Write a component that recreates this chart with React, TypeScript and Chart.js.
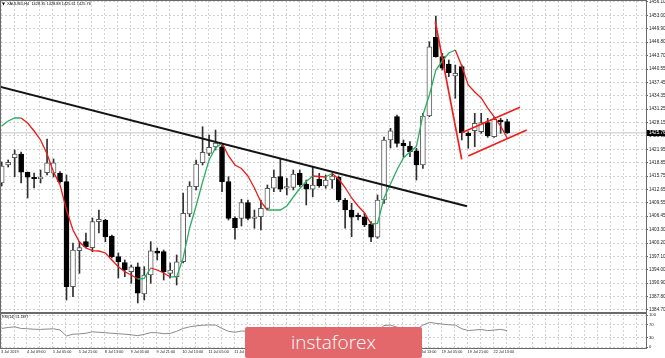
import React, { useEffect, useRef } from "react";
import { Chart, registerables } from "chart.js";

Chart.register(...registerables);

// ---------- data (XAUUSD H4) ----------
const OPEN = [
  1414.14, 1418.31, 1420.0, 1420.86, 1416.62, 1415.46, 1415.13, 1416.52, 1416.39, 1416.39,
  1414.44, 1390.1, 1398.44, 1400.53, 1399.14, 1405.17, 1405.56, 1401.85, 1397.05, 1395.66,
  1393.57, 1394.73, 1388.4, 1392.81, 1398.37, 1398.21, 1393.2, 1392.41, 1395.89, 1406.95,
  1413.28, 1418.84, 1421.02, 1422.48, 1422.55, 1414.44, 1405.95, 1405.95, 1409.57, 1405.95,
  1406.32, 1408.27, 1412.91, 1415.6, 1412.91, 1413.14, 1416.39, 1413.91, 1412.68, 1414.99,
  1413.44, 1414.83, 1415.46, 1410.2, 1407.88, 1406.72, 1406.32, 1404.63, 1401.55, 1410.2,
  1424.11, 1429.51, 1423.34, 1422.71, 1421.62, 1418.31, 1429.67, 1447.91, 1443.42, 1441.72,
  1438.94, 1441.1, 1425.66, 1426.26, 1426.03, 1428.12, 1424.87, 1428.74, 1428.35,
];
const HIGH = [
  1419.01, 1419.47, 1421.79, 1421.32, 1416.69, 1416.46, 1417.15, 1424.34, 1419.7, 1416.76,
  1415.99, 1400.23, 1400.53, 1402.55, 1406.02, 1407.88, 1405.72, 1402.08, 1397.91, 1396.29,
  1395.13, 1395.59, 1394.73, 1400.53, 1399.07, 1398.6, 1395.59, 1397.45, 1411.82, 1414.44,
  1419.47, 1427.19, 1425.26, 1426.42, 1422.95, 1415.6, 1406.32, 1410.36, 1410.2, 1407.88,
  1410.2, 1413.67, 1417.15, 1419.63, 1415.23, 1417.15, 1417.15, 1414.83, 1417.92, 1416.39,
  1415.99, 1416.39, 1415.76, 1410.59, 1409.43, 1407.18, 1407.11, 1405.17, 1411.36, 1424.8,
  1426.82, 1429.9, 1424.11, 1423.71, 1422.18, 1430.29, 1446.89, 1452.85, 1444.2, 1442.65,
  1441.49, 1441.49, 1426.03, 1430.29, 1430.29, 1429.14, 1429.37, 1429.14, 1428.88,
];
const LOW = [
  1413.44, 1417.85, 1415.6, 1414.14, 1410.66, 1412.98, 1414.14, 1415.99, 1415.53, 1414.07,
  1387.01, 1387.78, 1393.2, 1399.07, 1398.21, 1402.55, 1400.53, 1396.75, 1392.11, 1392.41,
  1390.88, 1386.32, 1387.01, 1390.88, 1396.29, 1391.65, 1392.11, 1390.49, 1395.59, 1406.32,
  1412.51, 1418.31, 1420.47, 1421.79, 1412.12, 1405.56, 1401.09, 1404.17, 1405.56, 1403.64,
  1403.24, 1407.88, 1412.12, 1412.12, 1411.36, 1412.51, 1413.28, 1409.04, 1410.96, 1413.14,
  1412.91, 1412.91, 1409.8, 1403.64, 1401.69, 1405.56, 1404.01, 1400.53, 1401.32, 1409.43,
  1422.25, 1422.48, 1420.23, 1420.23, 1414.83, 1417.54, 1429.51, 1443.28, 1440.33, 1438.78,
  1433.77, 1424.11, 1422.18, 1422.55, 1425.66, 1424.73, 1424.73, 1425.66, 1425.61,
];
const CLOSE = [
  1418.08, 1418.94, 1420.86, 1416.62, 1415.46, 1415.13, 1415.53, 1418.84, 1418.84, 1414.44,
  1390.1, 1398.6, 1399.14, 1399.37, 1405.17, 1405.72, 1401.69, 1397.05, 1395.89, 1393.97,
  1394.73, 1388.57, 1392.81, 1398.44, 1397.84, 1393.57, 1393.97, 1395.89, 1407.11, 1413.44,
  1418.54, 1421.25, 1422.41, 1423.41, 1414.44, 1405.95, 1403.77, 1409.57, 1405.95, 1406.32,
  1408.27, 1412.91, 1415.46, 1412.68, 1413.28, 1416.22, 1413.67, 1412.68, 1413.67, 1413.44,
  1414.83, 1415.76, 1410.2, 1407.88, 1406.19, 1406.32, 1404.4, 1401.55, 1410.2, 1424.11,
  1426.26, 1423.34, 1422.71, 1421.39, 1418.31, 1429.67, 1445.73, 1443.42, 1440.73, 1439.71,
  1439.57, 1425.8, 1425.1, 1427.98, 1428.12, 1425.03, 1428.9, 1428.35, 1425.76,
];
const MA = [
  1427.35, 1428.51, 1429.21, 1429.21, 1428.05, 1426.19, 1424.11, 1420.86, 1416.69, 1413.67,
  1407.88, 1403.24, 1400.46, 1399.07, 1398.44, 1398.37, 1397.91, 1396.29, 1394.73, 1393.57,
  1392.81, 1391.88, 1392.04, 1394.43, 1393.97, 1393.27, 1392.35, 1392.35, 1396.75, 1403.71,
  1408.81, 1414.37, 1419.47, 1422.25, 1423.41, 1420.4, 1418.31, 1417.5, 1415.76, 1412.98,
  1409.73, 1407.88, 1407.88, 1407.88, 1408.81, 1410.89, 1412.86, 1414.48, 1415.76, 1415.64,
  1415.53, 1416.34, 1415.06, 1413.09, 1410.66, 1408.81, 1407.18, 1404.63, 1404.75, 1410.66,
  1413.91, 1417.2, 1419.93, 1421.32, 1422.6, 1429.9, 1434.54, 1440.33, 1442.42, 1444.27,
  1444.97, 1441.26, 1436.86, 1435.23, 1433.84, 1431.52, 1429.44, 1427.35, 1424.57,
];
const RSI = [
  58, 61, 63, 58, 57, 55.5, 55, 56, 57, 53,
  34.5, 40, 41, 43, 47.5, 46, 44.5, 43, 41.5, 40,
  38, 35.5, 39.5, 45, 44.5, 41.5, 42.5, 49, 58, 63,
  66, 68, 69, 68.5, 58, 49, 46, 50, 49, 46,
  49, 54, 57, 52, 53, 56, 53, 50, 51, 50,
  52, 53, 46, 42, 40, 40, 38, 34, 50, 67,
  68.5, 62, 58, 57, 54, 68.5, 77, 74, 71.5, 69.5,
  68.5, 57, 51.5, 53, 55, 51, 53, 55, 51.14,
];
const PRICE_TICKS = [
  1384.7, 1387.8, 1390.9, 1394.0, 1397.1, 1400.2, 1403.3, 1406.45, 1409.55, 1412.65,
  1415.75, 1418.85, 1421.95, 1425.05, 1428.15, 1431.25, 1434.35, 1437.45, 1440.55, 1443.7,
  1446.8, 1449.9, 1453.0, 1456.1,
];
const RSI_TICKS = [0, 30, 70, 100];
const TIME_LABELS = [
  "3 Jul 2019", "4 Jul 09:00", "5 Jul 05:00", "5 Jul 21:00", "8 Jul 13:00",
  "9 Jul 05:00", "9 Jul 21:00", "10 Jul 13:00", "11 Jul 05:00", "11 Jul 21:00",
  "12 Jul 13:00", "15 Jul 05:00", "15 Jul 21:00", "16 Jul 13:00", "17 Jul 05:00",
  "17 Jul 21:00", "18 Jul 13:00", "19 Jul 05:00", "19 Jul 21:00", "22 Jul 13:00",
];
const TRENDLINE_BLACK = [{ x: -0.2, y: 1436.42 }, { x: 71.8, y: 1408.74 }];
const FLAG_POLE = [{ x: 66.91, y: 1451.53 }, { x: 70.99, y: 1419.63 }];
const FLAG_UPPER = [{ x: 70.99, y: 1425.8 }, { x: 79.98, y: 1431.69 }];
const FLAG_LOWER = [{ x: 72.0, y: 1420.4 }, { x: 81.02, y: 1426.42 }];
const HEADER = "XAUUSD,H4  1428.35 1428.88 1425.61 1425.76";
const RSI_LABEL = "RSI(14) 51.1397";

// ---------- view settings ----------
const X_MIN = -0.108;
const X_MAX = 99.43;
const Y_MIN = 1384.23;
const Y_MAX = 1456.33;
const FONT = "Liberation Sans";
const GRID = "#d2d2d2";

const gridTicksX = (scale: any) => {
  const t: any[] = [];
  for (let i = 0; i <= 98; i += 2) t.push({ value: i - 0.1 });
  scale.ticks = t;
};

const framePlugin = {
  id: "frame",
  afterDraw(chart: any) {
    const { ctx, chartArea: a } = chart;
    ctx.save();
    ctx.strokeStyle = "#6a6a6a";
    ctx.lineWidth = 1;
    ctx.strokeRect(a.left - 0.5, a.top - 0.5, a.right - a.left + 1, a.bottom - a.top + 1);
    ctx.restore();
  },
};

const headerPlugin = {
  id: "header",
  afterDraw(chart: any) {
    const { ctx } = chart;
    ctx.save();
    ctx.fillStyle = "#000";
    ctx.textBaseline = "middle";
    ctx.font = `3.8px "DejaVu Sans"`;
    ctx.fillText("▼", 2, 4.3);
    ctx.font = `3.9px "${FONT}"`;
    ctx.fillText(HEADER, 7, 4.3);
    ctx.restore();
  },
};

const priceBoxPlugin = {
  id: "priceBox",
  afterDraw(chart: any) {
    const { ctx, chartArea: a } = chart;
    const last = CLOSE[CLOSE.length - 1];
    const y = chart.scales.y.getPixelForValue(last);
    ctx.save();
    ctx.fillStyle = "#000";
    ctx.fillRect(a.right + 1, Math.round(y) - 3, 19, 6);
    ctx.fillStyle = "#fff";
    ctx.font = `4.6px "${FONT}"`;
    ctx.textBaseline = "middle";
    ctx.fillText(last.toFixed(2), a.right + 3, y);
    ctx.restore();
  },
};

const rsiLabelPlugin = {
  id: "rsiLabel",
  afterDraw(chart: any) {
    const { ctx } = chart;
    ctx.save();
    ctx.fillStyle = "#000";
    ctx.textBaseline = "middle";
    ctx.font = `3.6px "${FONT}"`;
    ctx.fillText(RSI_LABEL, 2, 3.6);
    ctx.restore();
  },
};

function mainConfig(): any {
  const last = CLOSE[CLOSE.length - 1];
  const wicks = OPEN.map((_, i) => ({ x: i, y: [LOW[i], HIGH[i]] }));
  const bodies = OPEN.map((o, i) => ({ x: i, y: [o, CLOSE[i]] }));
  const bull = OPEN.map((o, i) => CLOSE[i] >= o);
  return {
    type: "bar",
    data: {
      datasets: [
        {
          type: "line",
          data: [{ x: X_MIN, y: last }, { x: X_MAX, y: last }],
          borderColor: "#c4c4c4",
          borderWidth: 1,
          pointRadius: 0,
          order: 10,
        },
        {
          type: "bar",
          data: wicks,
          backgroundColor: "#303030",
          barThickness: 1,
          grouped: false,
          order: 6,
        },
        {
          type: "bar",
          data: bodies,
          backgroundColor: bull.map((b) => (b ? "#ffffff" : "#000000")),
          borderColor: bull.map((b) => (b ? "#5a5a5a" : "#000000")),
          borderWidth: 1,
          borderSkipped: false,
          barThickness: 5,
          minBarLength: 1,
          grouped: false,
          order: 5,
        },
        {
          type: "line",
          data: MA.map((v, i) => ({ x: i, y: v })),
          borderColor: "#e8191b",
          borderWidth: 1.3,
          pointRadius: 0,
          segment: {
            borderColor: (ctx: any) =>
              ctx.p1.parsed.y >= ctx.p0.parsed.y ? "#2bb061" : "#ee1a1a",
          },
          order: 3,
        },
        {
          type: "line",
          data: TRENDLINE_BLACK,
          borderColor: "#141414",
          borderWidth: 2,
          pointRadius: 0,
          order: 2,
        },
        {
          type: "line",
          data: FLAG_POLE,
          borderColor: "#f01d1d",
          borderWidth: 1.7,
          pointRadius: 0,
          order: 1,
        },
        {
          type: "line",
          data: FLAG_UPPER,
          borderColor: "#f01d1d",
          borderWidth: 1.7,
          pointRadius: 0,
          order: 1,
        },
        {
          type: "line",
          data: FLAG_LOWER,
          borderColor: "#f01d1d",
          borderWidth: 1.7,
          pointRadius: 0,
          order: 1,
        },
      ],
    },
    options: {
      responsive: false,
      animation: false,
      devicePixelRatio: 1,
      events: [],
      layout: { padding: { left: 1, top: 1, right: 0, bottom: 0 } },
      plugins: { legend: { display: false }, tooltip: { enabled: false } },
      scales: {
        x: {
          type: "linear",
          min: X_MIN,
          max: X_MAX,
          offset: false,
          afterBuildTicks: gridTicksX,
          afterFit: (s: any) => {
            s.height = 1;
            s.paddingLeft = 0;
            s.paddingRight = 0;
          },
          ticks: { display: false },
          grid: { color: GRID, drawTicks: false, offset: false },
          border: { display: false, dash: [2, 2] },
        },
        y: {
          type: "linear",
          position: "right",
          min: Y_MIN,
          max: Y_MAX,
          afterBuildTicks: (s: any) => {
            s.ticks = PRICE_TICKS.map((v) => ({ value: v }));
          },
          afterFit: (s: any) => {
            s.width = 19;
            s.paddingTop = 0;
            s.paddingBottom = 0;
          },
          ticks: {
            autoSkip: false,
            padding: 1,
            color: "#222",
            font: { family: FONT, size: 4.6 },
            callback: (v: any) => Number(v).toFixed(2),
          },
          grid: { color: GRID, drawTicks: true, tickLength: 2, tickColor: "#666" },
          border: { display: false, dash: [2, 2] },
        },
      },
    },
    plugins: [framePlugin, headerPlugin, priceBoxPlugin],
  };
}

function rsiConfig(): any {
  return {
    type: "line",
    data: {
      datasets: [
        {
          data: RSI.map((v, i) => ({ x: i, y: v })),
          borderColor: "#8a8a8a",
          borderWidth: 1,
          pointRadius: 0,
        },
      ],
    },
    options: {
      responsive: false,
      animation: false,
      devicePixelRatio: 1,
      events: [],
      layout: { padding: { left: 1, top: 1, right: 0, bottom: 0 } },
      plugins: { legend: { display: false }, tooltip: { enabled: false } },
      scales: {
        x: {
          type: "linear",
          min: X_MIN,
          max: X_MAX,
          offset: false,
          afterBuildTicks: gridTicksX,
          afterFit: (s: any) => {
            s.height = 10;
            s.paddingLeft = 0;
            s.paddingRight = 0;
          },
          ticks: {
            autoSkip: false,
            maxRotation: 0,
            minRotation: 0,
            align: "start",
            padding: 2,
            color: "#222",
            font: { family: FONT, size: 3.8 },
            callback: (v: any) => {
              const i = Math.round(Number(v) + 0.1);
              if (i % 4 !== 0) return "";
              return TIME_LABELS[i / 4] || "";
            },
          },
          grid: { color: GRID, drawTicks: false },
          border: { display: false, dash: [2, 2] },
        },
        y: {
          type: "linear",
          position: "right",
          min: -3.125,
          max: 103.125,
          afterBuildTicks: (s: any) => {
            s.ticks = RSI_TICKS.map((v) => ({ value: v }));
          },
          afterFit: (s: any) => {
            s.width = 19;
            s.paddingTop = 0;
            s.paddingBottom = 0;
          },
          ticks: {
            autoSkip: false,
            padding: 1,
            color: "#222",
            font: { family: FONT, size: 4.2 },
            callback: (v: any) => String(v),
          },
          grid: { color: GRID, drawTicks: true, tickLength: 2, tickColor: "#666" },
          border: { display: false, dash: [2, 2] },
        },
      },
    },
    plugins: [framePlugin, rsiLabelPlugin],
  };
}

export default function App() {
  const mainRef = useRef<HTMLCanvasElement>(null);
  const rsiRef = useRef<HTMLCanvasElement>(null);

  useEffect(() => {
    const c1 = new Chart(mainRef.current as HTMLCanvasElement, mainConfig());
    const c2 = new Chart(rsiRef.current as HTMLCanvasElement, rsiConfig());
    return () => {
      c1.destroy();
      c2.destroy();
    };
  }, []);

  return (
    <div
      style={{
        position: "fixed",
        left: 0,
        top: 0,
        width: 665,
        height: 358,
        background: "#ffffff",
        overflow: "hidden",
      }}
    >
      <canvas
        ref={mainRef}
        width={665}
        height={313}
        style={{ position: "absolute", left: 0, top: 0, width: 665, height: 313 }}
      />
      <canvas
        ref={rsiRef}
        width={665}
        height={45}
        style={{ position: "absolute", left: 0, top: 313, width: 665, height: 45 }}
      />
      <div
        style={{
          position: "absolute",
          left: 245,
          top: 326.7,
          width: 177,
          height: 31.3,
          background: "#e2686c",
          borderRadius: 2,
          color: "#ffffff",
          fontFamily: '"Open Sans", sans-serif',
          fontWeight: 300,
          fontSize: 19,
          lineHeight: "30px",
          textAlign: "center",
        }}
      >
        instaforex
      </div>
    </div>
  );
}
